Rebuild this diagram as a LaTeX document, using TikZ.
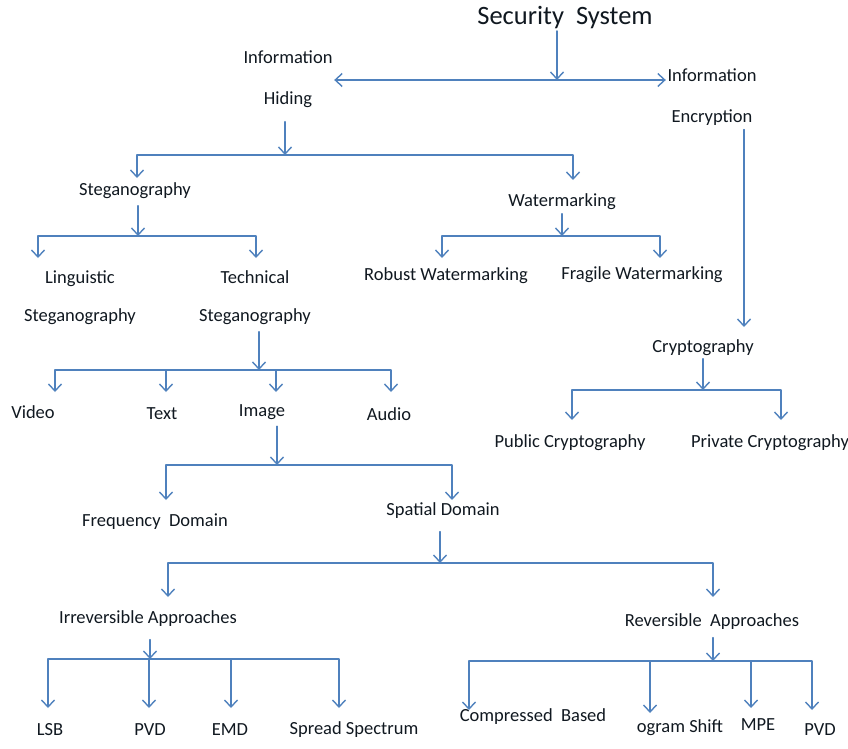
\documentclass[tikz,border=0pt]{standalone}
\usepackage{fontspec}
\setmainfont{Carlito}
\usepackage{tikz}
\usetikzlibrary{positioning,arrows.meta,calc}
\definecolor{wordblue}{HTML}{4F81BD}
\definecolor{ink}{HTML}{101820}

\begin{document}
\begin{tikzpicture}[x=1pt, y=-1pt, line width=1.4pt, line cap=round, line join=round,
  >={Straight Barb[length=7pt,width=13pt]},
  lbl/.style={inner sep=1pt, yshift=-2pt, text=ink, font=\fontsize{18.5}{20}\selectfont, align=center},
  arr/.style={wordblue, ->}]
  \useasboundingbox (0,0) rectangle (848,749);
  % labels, placed at their coordinates
  \node[lbl, font=\fontsize{26.5}{28}\selectfont] (sec) at (565,16) {Security\ \ System};
  \node[lbl] (hid) at (288,77.5) {Information\\[21pt]Hiding};
  \node[lbl] (enc) at (712,95.5) {Information\\[21pt]Encryption};
  \node[lbl] (steg) at (135,189) {Steganography};
  \node[lbl] (wmk) at (562,200) {Watermarking};
  \node[lbl] (crypt) at (703,346) {Cryptography};
  \node[lbl] (ling) at (80,296) {Linguistic\\[18pt]Steganography};
  \node[lbl] (tech) at (255,296) {Technical\\[18pt]Steganography};
  \node[lbl] (robust) at (446,274) {Robust Watermarking};
  \node[lbl] (fragile) at (642,273) {Fragile Watermarking};
  \node[lbl] (public) at (570,441) {Public Cryptography};
  \node[lbl] (private) at (770,441) {Private Cryptography};
  \node[lbl] (video) at (33,410) {Video};
  \node[lbl] (text) at (162,412) {Text};
  \node[lbl] (image) at (262,410) {Image};
  \node[lbl] (audio) at (389,412) {Audio};
  \node[lbl] (freq) at (155,520) {Frequency\ \ Domain};
  \node[lbl] (spat) at (443,509) {Spatial Domain};
  \node[lbl] (irr) at (148,617) {Irreversible Approaches};
  \node[lbl] (rev) at (712,620) {Reversible\ \ Approaches};
  \node[lbl] (lsb) at (50,728) {LSB};
  \node[lbl] (pvd) at (150,728) {PVD};
  \node[lbl] (emd) at (230,728) {EMD};
  \node[lbl] (spread) at (354,728) {Spread Spectrum};
  \node[lbl] (comp) at (533,715) {Compressed\ \ Based};
  \node[lbl] (hist) at (680,726) {ogram Shift};
  \node[lbl] (mpe) at (758,723) {MPE};
  \node[lbl] (pvdr) at (820,728) {PVD};

  % bar joints
  \coordinate (j0) at (557,80);
  \coordinate (j1) at (285,155);
  \coordinate (j2) at (138,236);
  \coordinate (j3) at (562,236);
  \coordinate (j4) at (703,390);
  \coordinate (j5) at (259,370);
  \coordinate (j6) at (277,465);
  \coordinate (j7) at (440,563);
  \coordinate (j8) at (150,659);
  \coordinate (j9) at (713,661);

  % arrow tips above the children
  \coordinate (t-steg) at (137,178);   \coordinate (t-wmk) at (573,180);
  \coordinate (t-ling) at (38,258);    \coordinate (t-tech) at (256,258);
  \coordinate (t-robust) at (442,258); \coordinate (t-fragile) at (660,258);
  \coordinate (t-crypt) at (744,327);
  \coordinate (t-public) at (572,420); \coordinate (t-private) at (781,420);
  \coordinate (t-video) at (55,392);   \coordinate (t-text) at (166,392);
  \coordinate (t-image) at (276,392);  \coordinate (t-audio) at (391,392);
  \coordinate (t-freq) at (166,500);   \coordinate (t-spat) at (452,500);
  \coordinate (t-irr) at (168,597);    \coordinate (t-rev) at (713,597);
  \coordinate (t-lsb) at (48,708);     \coordinate (t-pvd) at (149,708);
  \coordinate (t-emd) at (231,708);    \coordinate (t-spread) at (339,708);
  \coordinate (t-comp) at (469,710);   \coordinate (t-hist) at (650,713);
  \coordinate (t-mpe) at (751,708);    \coordinate (t-pvdr) at (812,710);

  % security system splits both ways
  \draw[arr] (sec.south -| j0) -- (j0);
  \draw[wordblue, <->] (hid.east |- j0) -- (enc.west |- j0);
  \draw[arr] ([xshift=32pt, yshift=-2pt]enc.south) -- (t-crypt);

  % parents down to their bars
  \draw[arr] ([yshift=-12pt]hid.south -| j1) -- (j1);
  \draw[arr] ([yshift=-5pt]steg.south -| j2) -- (j2);
  \draw[arr] ([yshift=-2pt]wmk.south -| j3) -- (j3);
  \draw[arr] ([yshift=-1pt]crypt.south -| j4) -- (j4);
  \draw[arr] ([yshift=-5pt]tech.south -| j5) -- (j5);
  \draw[arr] ([yshift=-5pt]image.south -| j6) -- (j6);
  \draw[arr] ([yshift=-11pt]spat.south -| j7) -- (j7);
  \draw[arr] ([yshift=-11pt]irr.south -| j8) -- (j8);
  \draw[arr] ([yshift=-6pt]rev.south -| j9) -- (j9);

  % bars out to the children
  \foreach \t in {t-steg,t-wmk} \draw[arr] (j1) -| (\t);
  \foreach \t in {t-ling,t-tech} \draw[arr] (j2) -| (\t);
  \foreach \t in {t-robust,t-fragile} \draw[arr] (j3) -| (\t);
  \foreach \t in {t-public,t-private} \draw[arr] (j4) -| (\t);
  \foreach \t in {t-video,t-text,t-image,t-audio} \draw[arr] (j5) -| (\t);
  \foreach \t in {t-freq,t-spat} \draw[arr] (j6) -| (\t);
  \foreach \t in {t-irr,t-rev} \draw[arr] (j7) -| (\t);
  \foreach \t in {t-lsb,t-pvd,t-emd,t-spread} \draw[arr] (j8) -| (\t);
  \foreach \t in {t-comp,t-hist,t-mpe,t-pvdr} \draw[arr] (j9) -| (\t);
\end{tikzpicture}
\end{document}
